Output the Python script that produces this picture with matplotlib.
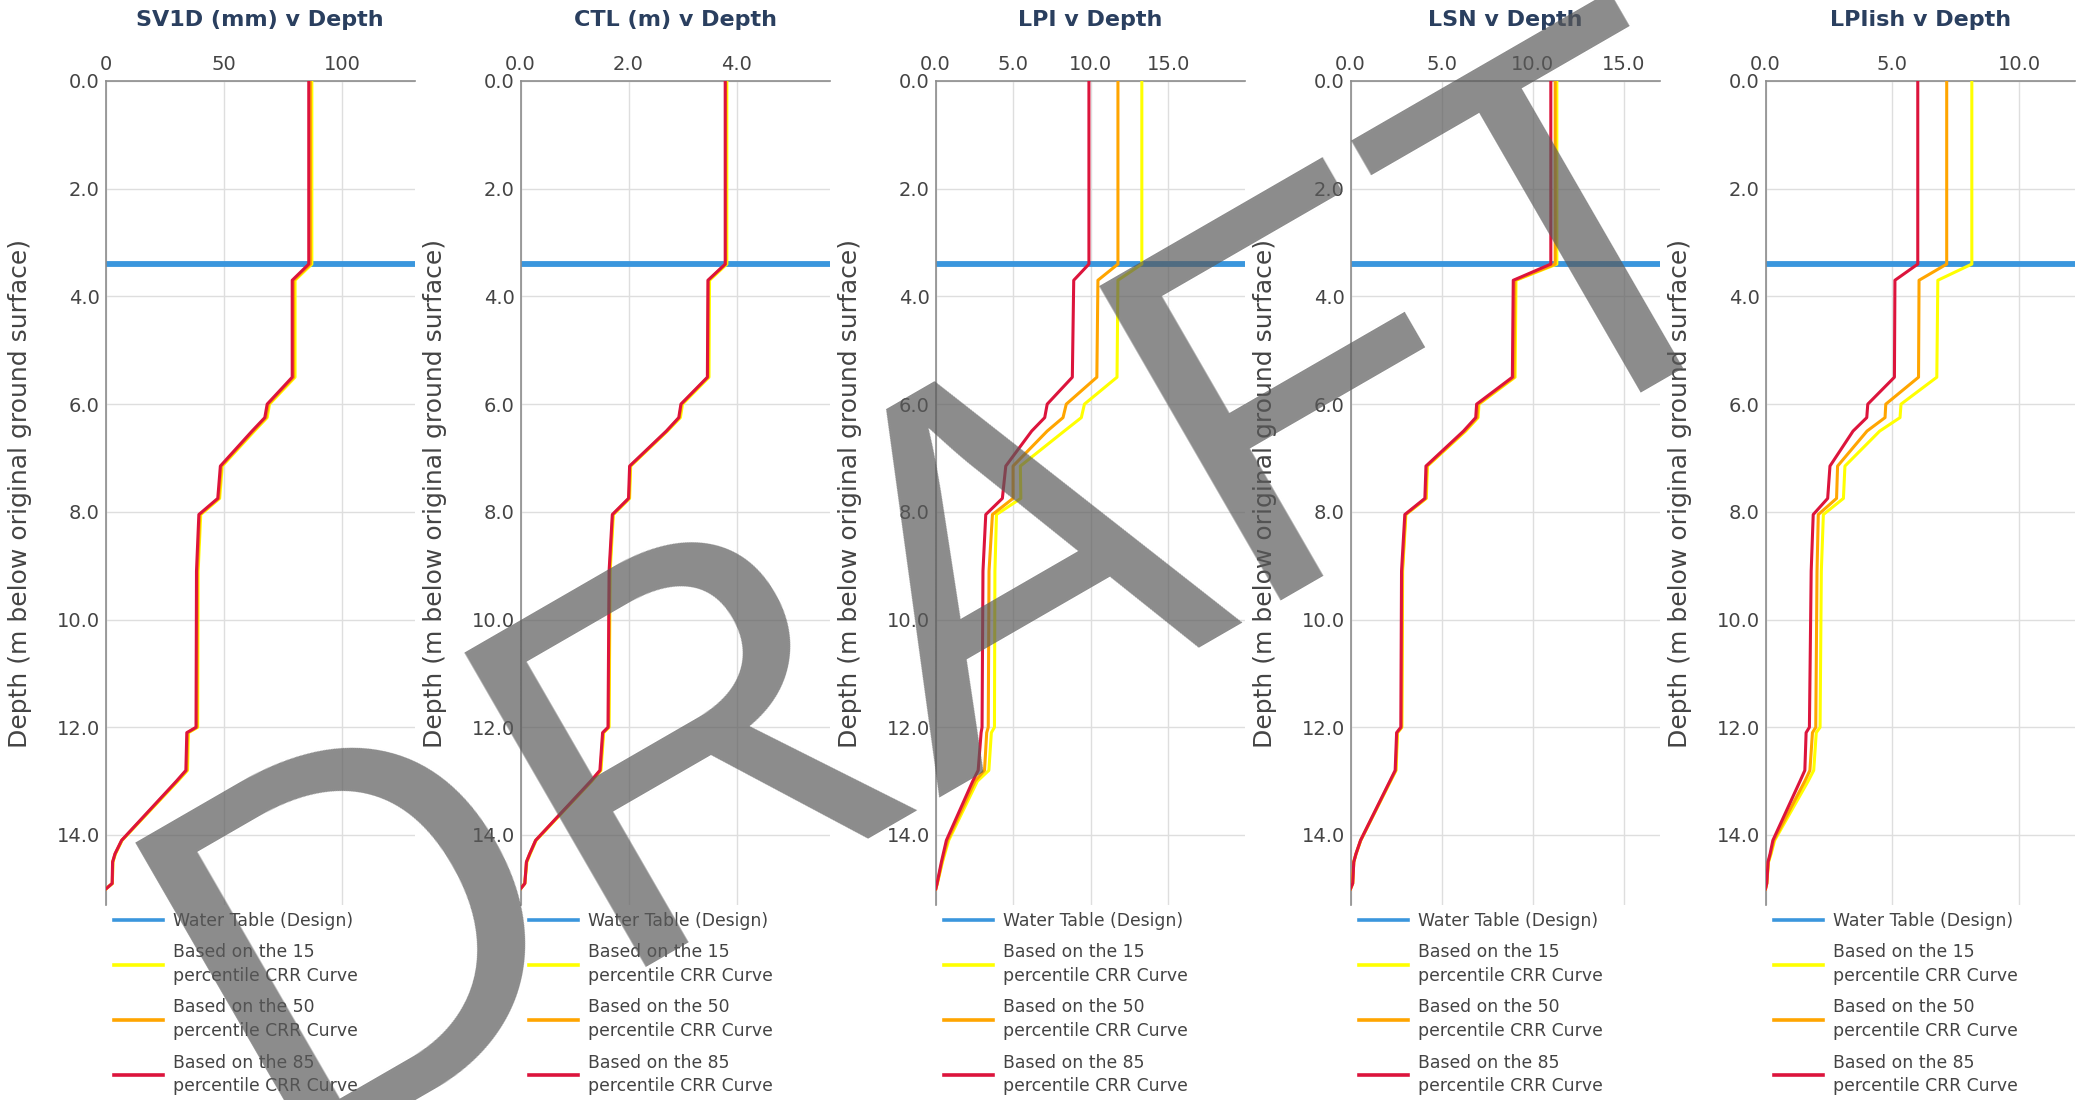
import matplotlib
matplotlib.use("Agg")
import matplotlib.pyplot as plt
from matplotlib.ticker import MultipleLocator, FormatStrFormatter

# depth nodes (m below original ground surface), shared by every curve
depth = [0.0, 3.4, 3.7, 5.5, 6.0, 6.25, 6.5, 7.15, 7.75, 8.05, 9.1,
         12.0, 12.1, 12.8, 13.0, 14.1, 14.35, 14.5, 14.9, 15.0]
water_table = 3.4

titles = ["SV1D (mm) v Depth", "CTL (m) v Depth", "LPI v Depth",
          "LSN v Depth", "LPIish v Depth"]
tick_steps = [50, 2, 5, 5, 5]
tick_formats = ["%d", "%.1f", "%.1f", "%.1f", "%.1f"]

sv1d_15 = [87.3, 87.3, 80.2, 80.2, 69.4, 68.4, 63.0, 49.4, 48.3, 40.3, 39.2,
           39.0, 35.1, 34.7, 30.6, 7.0, 4.2, 3.1, 2.9, 0.2]
sv1d_50 = [86.7, 86.7, 79.6, 79.6, 68.9, 67.9, 62.5, 49.0, 47.9, 39.9, 38.9,
           38.7, 34.8, 34.4, 30.3, 6.9, 4.1, 3.1, 2.9, 0.2]
sv1d_85 = [86.0, 86.0, 79.0, 79.0, 68.4, 67.4, 62.0, 48.6, 47.5, 39.5, 38.5,
           38.3, 34.4, 34.0, 30.0, 6.8, 4.0, 3.0, 2.8, 0.2]

ctl_15 = [3.82, 3.82, 3.50, 3.49, 3.00, 2.96, 2.72, 2.04, 2.02, 1.72, 1.66,
          1.64, 1.54, 1.49, 1.32, 0.29, 0.18, 0.12, 0.08, 0.0]
ctl_50 = [3.80, 3.80, 3.48, 3.47, 2.98, 2.94, 2.71, 2.03, 2.01, 1.71, 1.65,
          1.63, 1.53, 1.48, 1.31, 0.28, 0.17, 0.11, 0.08, 0.0]
ctl_85 = [3.79, 3.79, 3.47, 3.46, 2.97, 2.93, 2.70, 2.02, 2.00, 1.70, 1.64,
          1.62, 1.52, 1.47, 1.30, 0.28, 0.17, 0.11, 0.08, 0.0]

lpi_15 = [13.3, 13.3, 11.76, 11.7, 9.6, 9.4, 8.3, 5.47, 5.5, 3.93, 3.83,
          3.8, 3.6, 3.44, 2.7, 0.85, 0.6, 0.45, 0.12, 0.02]
lpi_50 = [11.76, 11.76, 10.47, 10.4, 8.43, 8.22, 7.2, 5.0, 5.0, 3.67, 3.45,
          3.4, 3.3, 3.16, 2.55, 0.78, 0.55, 0.42, 0.11, 0.02]
lpi_85 = [9.89, 9.89, 8.91, 8.82, 7.2, 7.04, 6.2, 4.53, 4.31, 3.24, 3.06,
          3.0, 2.94, 2.75, 2.4, 0.7, 0.5, 0.38, 0.1, 0.02]

lsn_15 = [11.32, 11.32, 9.08, 9.03, 7.05, 7.0, 6.32, 4.22, 4.16, 3.04, 2.86,
          2.82, 2.58, 2.5, 2.2, 0.56, 0.31, 0.18, 0.12, 0.0]
lsn_50 = [11.23, 11.23, 9.02, 8.97, 7.0, 6.95, 6.27, 4.19, 4.13, 3.02, 2.84,
          2.8, 2.56, 2.48, 2.18, 0.56, 0.3, 0.18, 0.12, 0.0]
lsn_85 = [10.99, 10.99, 8.93, 8.88, 6.92, 6.87, 6.2, 4.14, 4.08, 2.98, 2.80,
          2.76, 2.53, 2.45, 2.16, 0.55, 0.3, 0.18, 0.12, 0.0]

lpiish_15 = [8.13, 8.13, 6.79, 6.75, 5.34, 5.3, 4.5, 3.13, 3.07, 2.28, 2.2,
             2.15, 2.0, 1.9, 1.68, 0.36, 0.22, 0.12, 0.05, 0.0]
lpiish_50 = [7.14, 7.14, 6.05, 6.03, 4.74, 4.71, 4.0, 2.84, 2.8, 2.08, 2.03,
             1.98, 1.85, 1.75, 1.55, 0.33, 0.2, 0.11, 0.05, 0.0]
lpiish_85 = [6.0, 6.0, 5.1, 5.08, 4.03, 3.99, 3.45, 2.54, 2.45, 1.88, 1.8,
             1.73, 1.6, 1.55, 1.36, 0.29, 0.18, 0.1, 0.05, 0.0]

panels = [
    (sv1d_15, sv1d_50, sv1d_85),
    (ctl_15, ctl_50, ctl_85),
    (lpi_15, lpi_50, lpi_85),
    (lsn_15, lsn_50, lsn_85),
    (lpiish_15, lpiish_50, lpiish_85),
]

series_names = ["Based on the 15\npercentile CRR Curve",
                "Based on the 50\npercentile CRR Curve",
                "Based on the 85\npercentile CRR Curve"]
series_colors = ["#ffff00", "#ffa500", "#dc143c"]
wt_color = "#3a96dd"
text_color = "#444444"
title_color = "#2a3f5f"

W, H = 2089, 1100
fig = plt.figure(figsize=(W / 100, H / 100), dpi=100)

ax_w = 309.5
ax_top, ax_bot = 81, 905

for i, (curves, title) in enumerate(zip(panels, titles)):
    left = 105.5 + 415 * i
    ax = fig.add_axes([left / W, 1 - ax_bot / H, ax_w / W, (ax_bot - ax_top) / H])

    ax.axhline(water_table, color=wt_color, lw=4.2, label="Water Table (Design)", zorder=2)
    for vals, name, col in zip(curves, series_names, series_colors):
        ax.plot(vals, depth, color=col, lw=2.2, label=name, zorder=3)

    xmax = 1.5 * max(max(c) for c in curves)
    ax.set_xlim(0, xmax)
    ax.set_ylim(15.3, 0)

    ax.xaxis.tick_top()
    ax.xaxis.set_major_locator(MultipleLocator(tick_steps[i]))
    ax.xaxis.set_major_formatter(FormatStrFormatter(tick_formats[i]))
    ax.yaxis.set_major_locator(MultipleLocator(2))
    ax.yaxis.set_major_formatter(FormatStrFormatter("%.1f"))
    ax.tick_params(axis="x", length=0, pad=5, labelsize=14, labelcolor=text_color)
    ax.tick_params(axis="y", length=0, pad=4, labelsize=14, labelcolor=text_color)

    ax.grid(True, color="#dedede", lw=1.0, zorder=0)
    ax.set_axisbelow(True)
    for side in ["right", "bottom"]:
        ax.spines[side].set_visible(False)
    for side in ["left", "top"]:
        ax.spines[side].set_color("#8c8c8c")
        ax.spines[side].set_linewidth(1.2)

    ax.set_ylabel("Depth (m below original ground surface)", fontsize=18, color=text_color)
    ax.yaxis.set_label_coords(-0.236, 0.5)

    ax.text(0.5, 1 + 61 / (ax_bot - ax_top), title, transform=ax.transAxes,
            ha="center", va="center", fontsize=16, fontweight="bold", color=title_color)

    leg = ax.legend(loc="upper left", bbox_to_anchor=(0.026, -0.008), frameon=False,
                    fontsize=12.4, borderpad=0, borderaxespad=0, handlelength=2.85,
                    handletextpad=0.6, labelspacing=0.8, labelcolor=text_color)
    for t in leg.get_texts():
        t.set_linespacing(1.38)
    for h in leg.get_lines():
        h.set_linewidth(2.6)

# watermark across the sheet
fig.text(0.463, 0.455, "DRAFT", fontsize=380, family="Liberation Sans",
         color="#5a5a5a", alpha=0.7, rotation=30, rotation_mode="anchor",
         ha="center", va="center", zorder=10)

fig.savefig("out.png", dpi=100)
